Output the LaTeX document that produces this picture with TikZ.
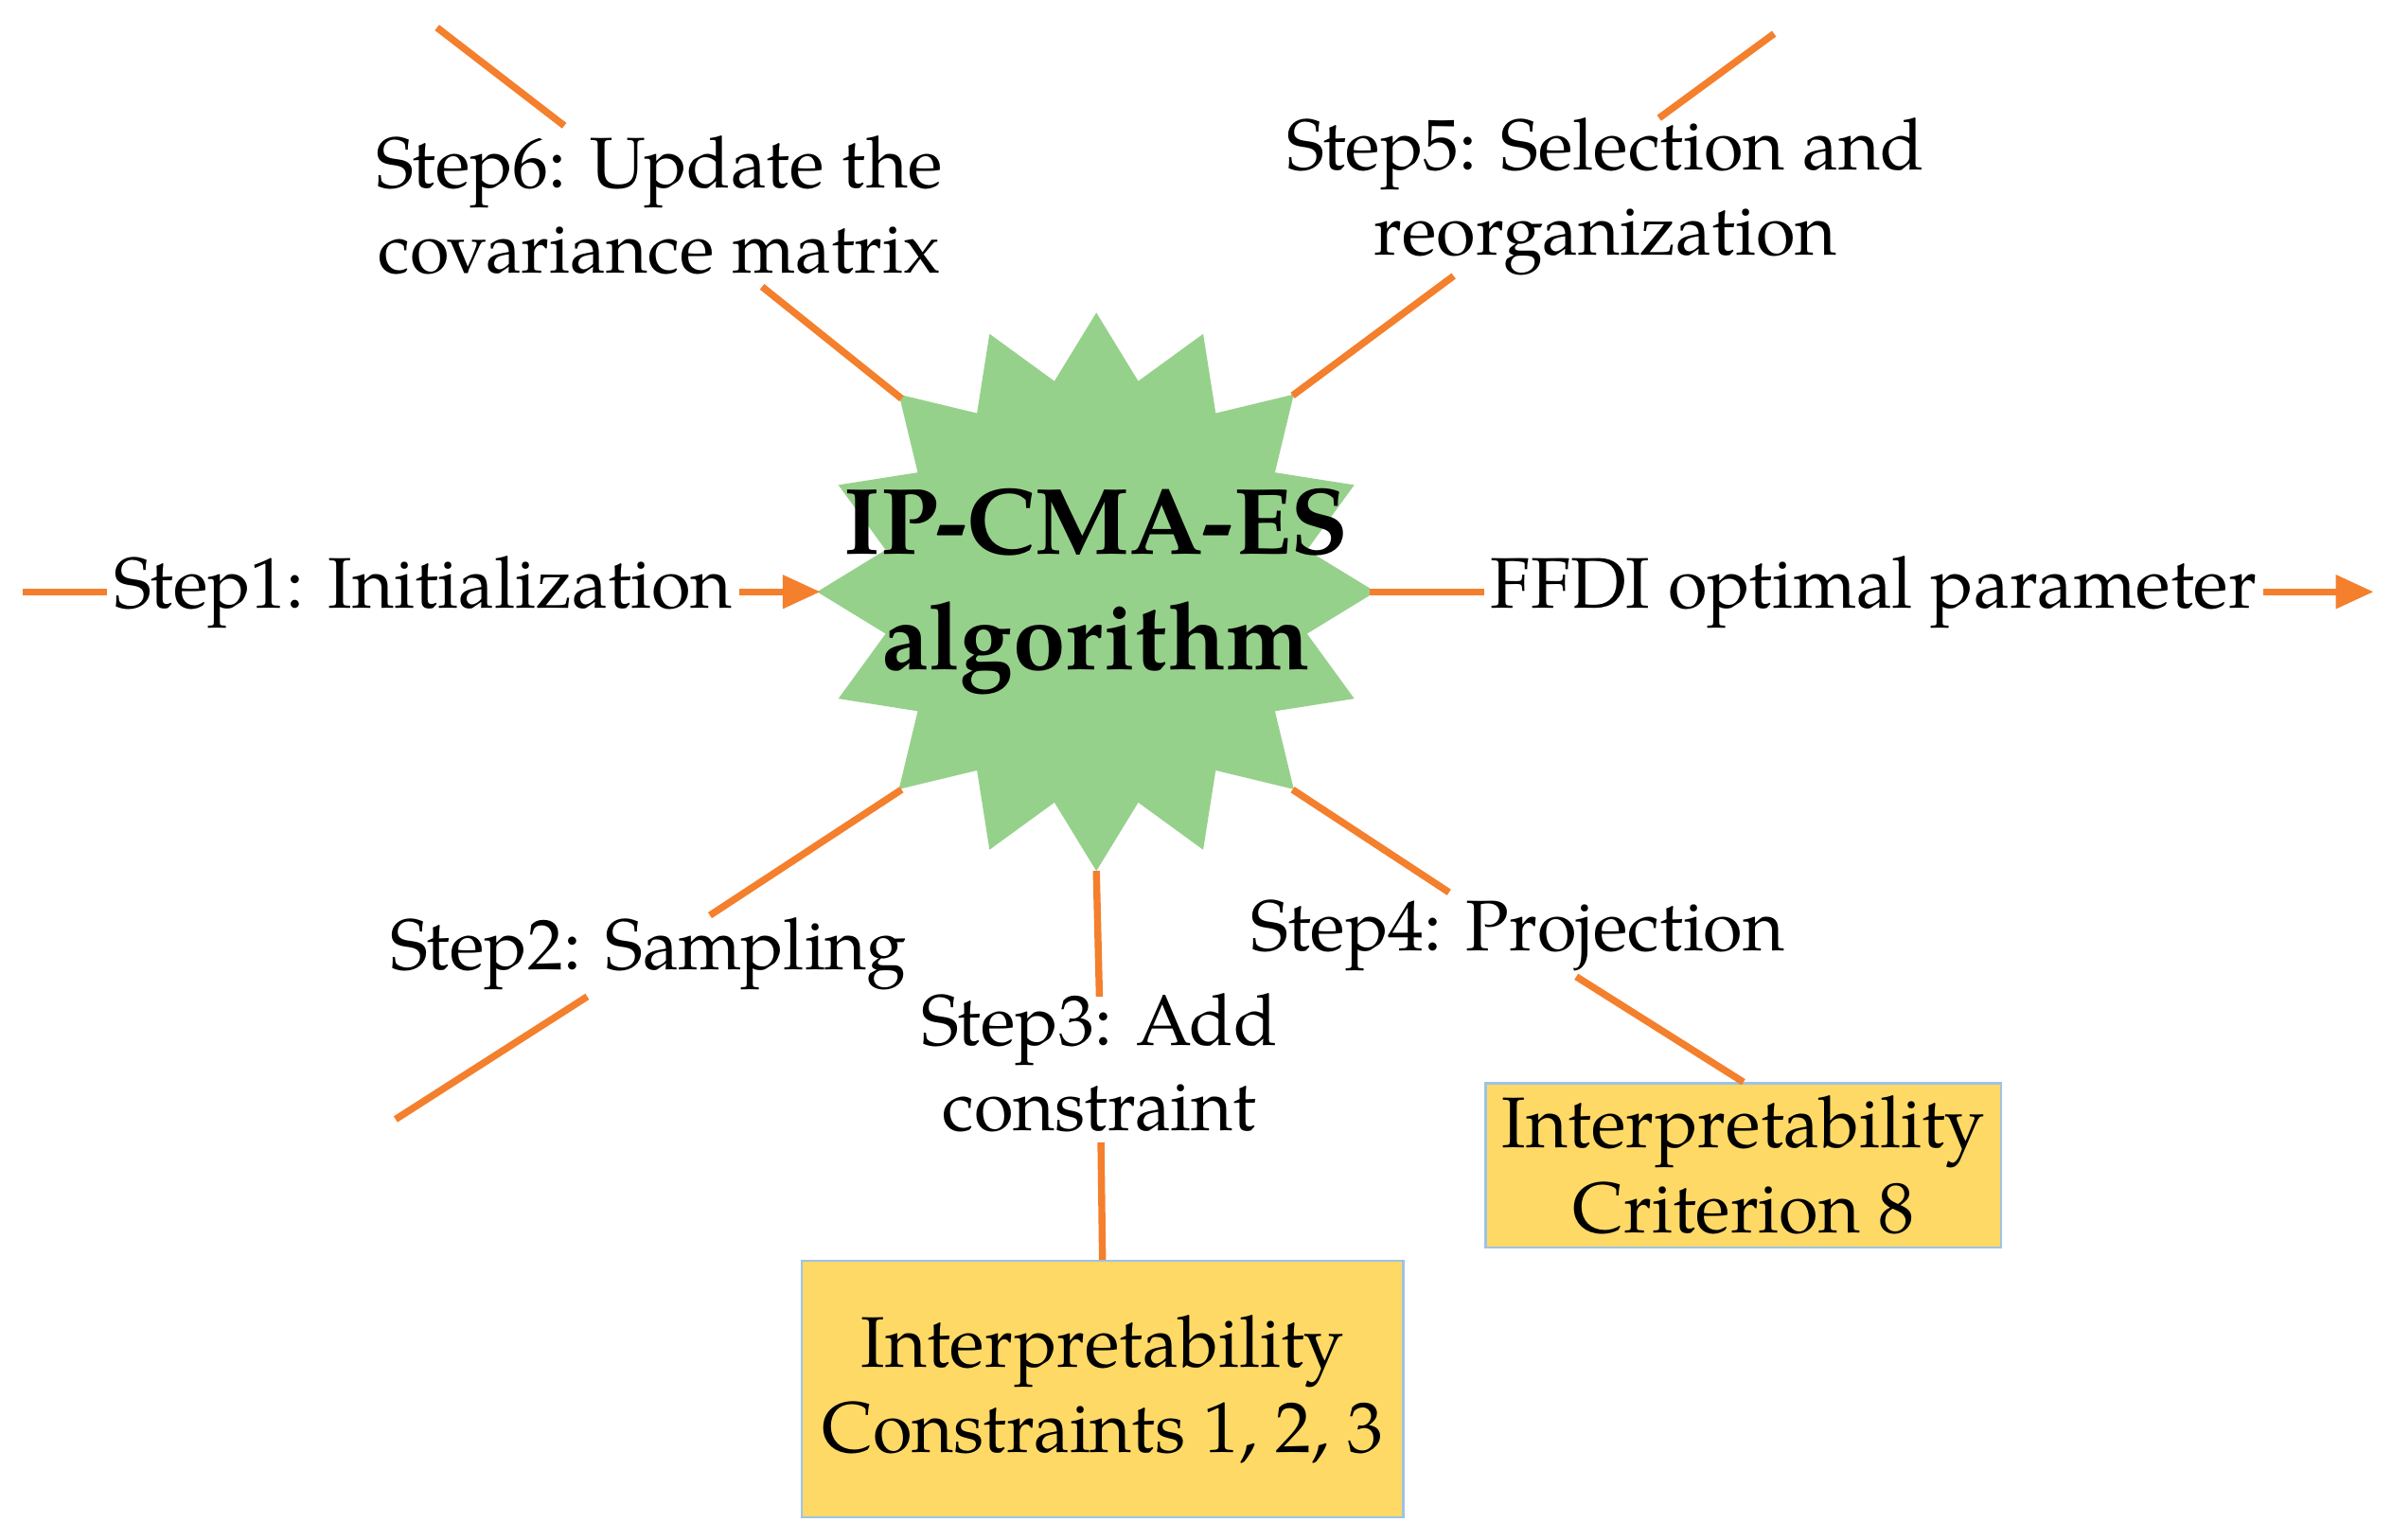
\documentclass[tikz,border=0pt]{standalone}
\usepackage{fontspec}
\setmainfont{TeX Gyre Pagella}[Scale=1]
\usetikzlibrary{shapes.geometric,arrows.meta}
\definecolor{org}{HTML}{F47F2C}
\definecolor{grn}{HTML}{96D18B}
\definecolor{yel}{HTML}{FFD966}
\definecolor{bl}{HTML}{9DC3E6}
\begin{document}
\begin{tikzpicture}[x=0.01cm,y=-0.01cm,
  ln/.style={draw=org,line width=1.3pt},
  ar/.style={ln,-{Triangle[length=7pt,width=6pt]}},
  lab/.style={font=\fontsize{13.3}{15.8}\selectfont,align=center,inner sep=1pt},
  box/.style={draw=bl,fill=yel,font=\fontsize{13.3}{15.8}\selectfont,align=center,inner sep=2pt}]
\useasboundingbox (0,0) rectangle (1560,1004);
\node[star,star points=16,star point ratio=1.3,minimum size=3.64cm,fill=grn,inner sep=0] (s) at (715,386) {};
\node[font=\fontsize{17.5}{21.5}\selectfont\bfseries,align=center] (t) at (715,386) {IP-CMA-ES\\algorithm};
\node[lab] (l1) at (276,386) {Step1: Initialization};
\node[lab] (l0) at (1222,386) {FFDI optimal parameter};
\node[lab] (l6) at (430,134) {Step6: Update the\\covariance matrix};
\node[lab] (l5) at (1047,128) {Step5: Selection and\\reorganization};
\node[lab] (l2) at (423,622) {Step2: Sampling};
\node[lab] (l3) at (717,693) {Step3: Add\\constraint};
\node[lab] (l4) at (990,610) {Step4: Projection};
\node[box,minimum width=3.92cm,minimum height=1.67cm] (b1) at (719,906) {Interpretability\\Constraints 1, 2, 3};
\node[box,minimum width=3.36cm,minimum height=1.07cm] (b2) at (1137,760) {Interpretability\\Criterion 8};
\coordinate (a1) at (15,386); \coordinate (a2) at (535,386);
\coordinate (a3) at (893,386); \coordinate (a4) at (1548,386);
\draw[ln] (a1) -- (l1.west); \draw[ar] (l1.east) -- (a2);
\draw[ln] (a3) -- (l0.west); \draw[ar] (l0.east) -- (a4);
\coordinate (c6a) at (285,18); \coordinate (c6b) at (368,82);
\coordinate (c6c) at (497,187); \coordinate (c6d) at (588,260);
\draw[ln] (c6a) -- (c6b); \draw[ln] (c6c) -- (c6d);
\coordinate (c5a) at (1157,22); \coordinate (c5b) at (1082,77);
\coordinate (c5c) at (948,180); \coordinate (c5d) at (843,258);
\draw[ln] (c5a) -- (c5b); \draw[ln] (c5c) -- (c5d);
\coordinate (c2a) at (588,515); \coordinate (c2b) at (463,597);
\coordinate (c2c) at (383,650); \coordinate (c2d) at (258,730);
\draw[ln] (c2a) -- (c2b); \draw[ln] (c2c) -- (c2d);
\coordinate (c3a) at (715,568); \coordinate (c3b) at (717,650);
\coordinate (c3c) at (718,745);
\draw[ln] (c3a) -- (c3b); \draw[ln] (c3c) -- (b1.north);
\coordinate (c4a) at (843,515); \coordinate (c4b) at (945,582);
\coordinate (c4c) at (1028,637);
\draw[ln] (c4a) -- (c4b); \draw[ln] (c4c) -- (b2.north);
\end{tikzpicture}
\end{document}
